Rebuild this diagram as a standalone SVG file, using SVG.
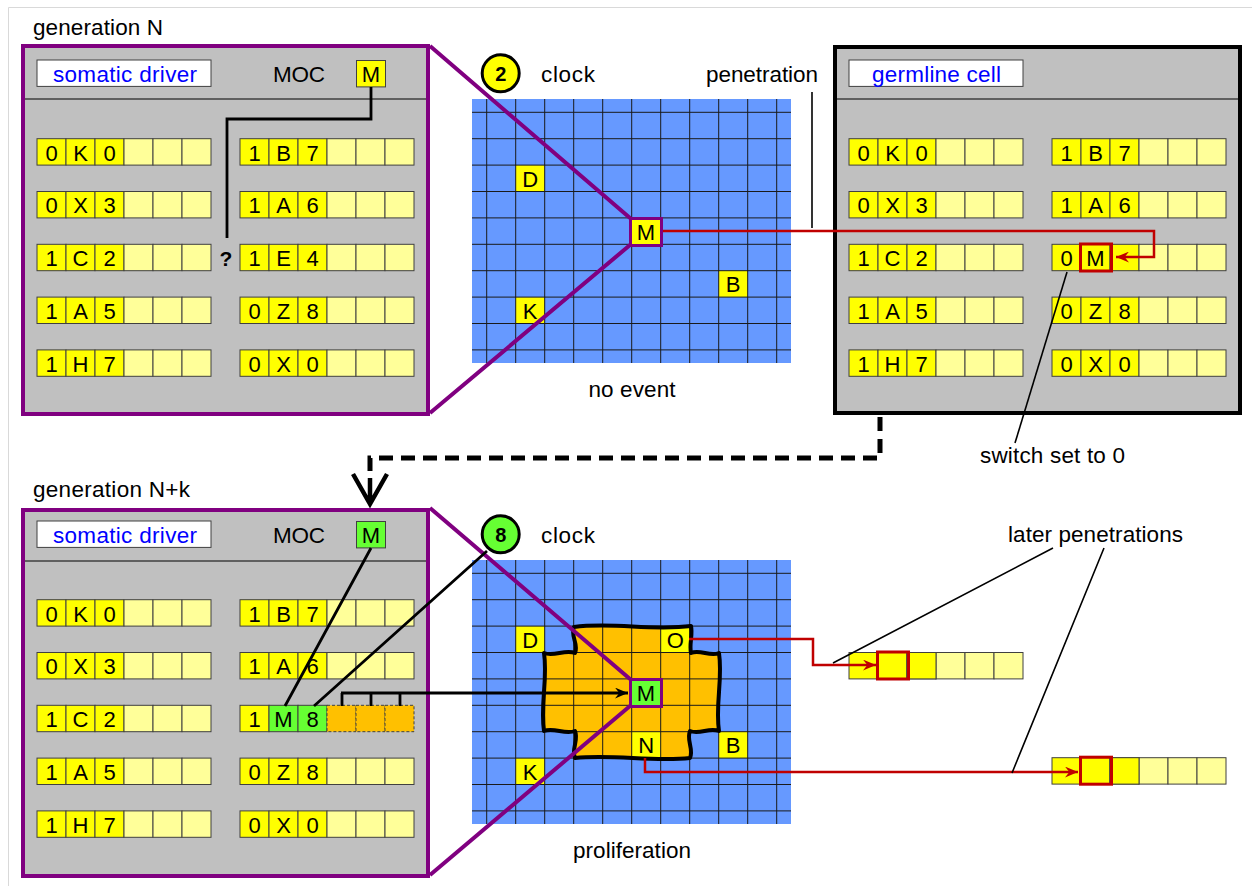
<svg xmlns="http://www.w3.org/2000/svg" xmlns:xlink="http://www.w3.org/1999/xlink" width="1252" height="886" viewBox="0 0 1252 886">
<style>
text{font-family:"Liberation Sans",Arial,sans-serif;fill:#000}
.lbl{font-size:22.5px}
.blue{fill:#0000ff}
.ct{font-size:22px;text-anchor:middle}
.mid{text-anchor:middle}
.y{fill:#ffff00;stroke:#404040;stroke-width:1}
.ly{fill:#ffff99;stroke:#404040;stroke-width:1}
.gy{fill:#ffff00}
.panel{fill:#c0c0c0}
.sep{stroke:#404040;stroke-width:1.5}
.purp{stroke:#800080;stroke-width:4;fill:none}
.red{stroke:#c00000;stroke-width:2.5;fill:none}
.redbox{stroke:#c00000;stroke-width:3;fill:none}
.blk{stroke:#000;stroke-width:2.8;fill:none}
.lead{stroke:#000;stroke-width:1.6;fill:none}
.gl{stroke:#1a1a1a;stroke-width:1;fill:none}
</style>
<defs>
<g id="row">
<rect class="y" x="0" y="0" width="29" height="26.4"/>
<rect class="y" x="29" y="0" width="29" height="26.4"/>
<rect class="y" x="58" y="0" width="29" height="26.4"/>
<rect class="ly" x="87" y="0" width="29" height="26.4"/>
<rect class="ly" x="116" y="0" width="29" height="26.4"/>
<rect class="ly" x="145" y="0" width="29" height="26.4"/>
</g>
<path id="gridlines" class="gl" d="M486.7,99V363M515.7,99V363M544.7,99V363M573.7,99V363M602.7,99V363M631.7,99V363M660.7,99V363M689.7,99V363M718.7,99V363M747.7,99V363M776.7,99V363M472,112.3H791M472,138.7H791M472,165.1H791M472,191.5H791M472,217.9H791M472,244.3H791M472,270.7H791M472,297.1H791M472,323.5H791M472,349.9H791"/>
<marker id="arR" viewBox="0 0 12 10" refX="12" refY="5" markerWidth="13" markerHeight="11" markerUnits="userSpaceOnUse" orient="auto"><path d="M0,0 L12,5 L0,10 L4,5 z" fill="#c00000"/></marker>
<marker id="arK" viewBox="0 0 12 10" refX="12" refY="5" markerWidth="13" markerHeight="11" markerUnits="userSpaceOnUse" orient="auto"><path d="M0,0 L12,5 L0,10 L4,5 z" fill="#000"/></marker>
</defs>
<rect width="1252" height="886" fill="#fff"/>
<path d="M8.5,886V7.5H1252" stroke="#d9d9d9" stroke-width="1" fill="none"/>

<!-- Generation N panel -->
<g id="panel-gen-n">
<text class="lbl" x="33" y="35" textLength="130">generation N</text>
<rect class="panel" x="23" y="46" width="405" height="368" stroke="#800080" stroke-width="4"/>
<line class="sep" x1="25" y1="99" x2="426" y2="99"/>
<rect x="37" y="60" width="174" height="26.4" fill="#fff" stroke="#404040" stroke-width="1"/>
<text class="lbl blue mid" x="125" y="82" textLength="144">somatic driver</text>
<text class="lbl mid" x="299" y="82" textLength="52">MOC</text>
<rect class="y" x="356.5" y="60.5" width="29" height="26.4"/>
<text class="ct" x="371" y="81.5">M</text>
<use href="#row" x="37" y="138.7"/><use href="#row" x="37" y="191.5"/><use href="#row" x="37" y="244.3"/><use href="#row" x="37" y="297.1"/><use href="#row" x="37" y="349.9"/>
<use href="#row" x="240" y="138.7"/><use href="#row" x="240" y="191.5"/><use href="#row" x="240" y="244.3"/><use href="#row" x="240" y="297.1"/><use href="#row" x="240" y="349.9"/>
<text class="ct" x="51.5" y="160.5">0</text><text class="ct" x="80.5" y="160.5">K</text><text class="ct" x="109.5" y="160.5">0</text>
<text class="ct" x="51.5" y="213.3">0</text><text class="ct" x="80.5" y="213.3">X</text><text class="ct" x="109.5" y="213.3">3</text>
<text class="ct" x="51.5" y="266.1">1</text><text class="ct" x="80.5" y="266.1">C</text><text class="ct" x="109.5" y="266.1">2</text>
<text class="ct" x="51.5" y="318.9">1</text><text class="ct" x="80.5" y="318.9">A</text><text class="ct" x="109.5" y="318.9">5</text>
<text class="ct" x="51.5" y="371.7">1</text><text class="ct" x="80.5" y="371.7">H</text><text class="ct" x="109.5" y="371.7">7</text>
<text class="ct" x="254.5" y="160.5">1</text><text class="ct" x="283.5" y="160.5">B</text><text class="ct" x="312.5" y="160.5">7</text>
<text class="ct" x="254.5" y="213.3">1</text><text class="ct" x="283.5" y="213.3">A</text><text class="ct" x="312.5" y="213.3">6</text>
<text class="ct" x="254.5" y="266.1">1</text><text class="ct" x="283.5" y="266.1">E</text><text class="ct" x="312.5" y="266.1">4</text>
<text class="ct" x="254.5" y="318.9">0</text><text class="ct" x="283.5" y="318.9">Z</text><text class="ct" x="312.5" y="318.9">8</text>
<text class="ct" x="254.5" y="371.7">0</text><text class="ct" x="283.5" y="371.7">X</text><text class="ct" x="312.5" y="371.7">0</text>
<text x="226" y="265.5" font-size="21" font-weight="bold" text-anchor="middle">?</text>
</g>

<!-- Top grid -->
<g id="grid-top">
<rect x="472" y="99" width="319" height="264" fill="#6699ff"/>
<rect class="gy" x="515.7" y="165.1" width="29" height="26.4"/>
<rect class="gy" x="515.7" y="297.1" width="29" height="26.4"/>
<rect class="gy" x="718.7" y="270.7" width="29" height="26.4"/>
<use href="#gridlines"/>
<text class="ct" x="530.2" y="186.7">D</text>
<text class="ct" x="530.2" y="318.7">K</text>
<text class="ct" x="733.2" y="292.3">B</text>
<circle cx="500.7" cy="73.3" r="18.5" fill="#ffff00" stroke="#000" stroke-width="3"/>
<text x="500.7" y="80.5" font-size="20" font-weight="bold" text-anchor="middle">2</text>
<text class="lbl" x="541" y="82" textLength="54">clock</text>
<text class="lbl" x="706" y="82" textLength="112">penetration</text>
<text class="lbl mid" x="632" y="397" textLength="87">no event</text>
</g>

<!-- Germline panel -->
<g id="germline">
<rect class="panel" x="835" y="47" width="405" height="366" stroke="#000" stroke-width="4"/>
<line class="sep" x1="837" y1="99" x2="1238" y2="99"/>
<rect x="849" y="60" width="174" height="26.4" fill="#fff" stroke="#404040" stroke-width="1"/>
<text class="lbl blue mid" x="936.5" y="82" textLength="129">germline cell</text>
<use href="#row" x="849" y="138.7"/><use href="#row" x="849" y="191.5"/><use href="#row" x="849" y="244.3"/><use href="#row" x="849" y="297.1"/><use href="#row" x="849" y="349.9"/>
<use href="#row" x="1052" y="138.7"/><use href="#row" x="1052" y="191.5"/><use href="#row" x="1052" y="244.3"/><use href="#row" x="1052" y="297.1"/><use href="#row" x="1052" y="349.9"/>
<text class="ct" x="863.5" y="160.5">0</text><text class="ct" x="892.5" y="160.5">K</text><text class="ct" x="921.5" y="160.5">0</text>
<text class="ct" x="863.5" y="213.3">0</text><text class="ct" x="892.5" y="213.3">X</text><text class="ct" x="921.5" y="213.3">3</text>
<text class="ct" x="863.5" y="266.1">1</text><text class="ct" x="892.5" y="266.1">C</text><text class="ct" x="921.5" y="266.1">2</text>
<text class="ct" x="863.5" y="318.9">1</text><text class="ct" x="892.5" y="318.9">A</text><text class="ct" x="921.5" y="318.9">5</text>
<text class="ct" x="863.5" y="371.7">1</text><text class="ct" x="892.5" y="371.7">H</text><text class="ct" x="921.5" y="371.7">7</text>
<text class="ct" x="1066.5" y="160.5">1</text><text class="ct" x="1095.5" y="160.5">B</text><text class="ct" x="1124.5" y="160.5">7</text>
<text class="ct" x="1066.5" y="213.3">1</text><text class="ct" x="1095.5" y="213.3">A</text><text class="ct" x="1124.5" y="213.3">6</text>
<text class="ct" x="1066.5" y="266.1">0</text><text class="ct" x="1095.5" y="266.1">M</text>
<text class="ct" x="1066.5" y="318.9">0</text><text class="ct" x="1095.5" y="318.9">Z</text><text class="ct" x="1124.5" y="318.9">8</text>
<text class="ct" x="1066.5" y="371.7">0</text><text class="ct" x="1095.5" y="371.7">X</text><text class="ct" x="1124.5" y="371.7">0</text>
<rect class="redbox" x="1080.5" y="244" width="31" height="27"/>
<text class="lbl mid" x="1052.5" y="463" textLength="145">switch set to 0</text>
</g>

<!-- Generation N+k panel -->
<g id="panel-gen-nk">
<text class="lbl" x="33" y="497" textLength="157">generation N+k</text>
<rect class="panel" x="23" y="510" width="405" height="366" stroke="#800080" stroke-width="4"/>
<line class="sep" x1="25" y1="561" x2="426" y2="561"/>
<rect x="37" y="521" width="174" height="26.4" fill="#fff" stroke="#404040" stroke-width="1"/>
<text class="lbl blue mid" x="125" y="543" textLength="144">somatic driver</text>
<text class="lbl mid" x="299" y="543" textLength="52">MOC</text>
<rect x="356.5" y="521.5" width="29" height="26.4" fill="#66ff33" stroke="#404040" stroke-width="1"/>
<text class="ct" x="371" y="542.5">M</text>
<use href="#row" x="37" y="599.7"/><use href="#row" x="37" y="652.5"/><use href="#row" x="37" y="705.3"/><use href="#row" x="37" y="758.1"/><use href="#row" x="37" y="810.9"/>
<use href="#row" x="240" y="599.7"/><use href="#row" x="240" y="652.5"/><use href="#row" x="240" y="758.1"/><use href="#row" x="240" y="810.9"/>
<rect class="y" x="240" y="705.3" width="29" height="26.4"/>
<rect x="269" y="705.3" width="29" height="26.4" fill="#66ff33" stroke="#404040" stroke-width="1"/>
<rect x="298" y="705.3" width="29" height="26.4" fill="#66ff33" stroke="#404040" stroke-width="1"/>
<rect x="327" y="705.3" width="29" height="26.4" fill="#ffc000" stroke="#404040" stroke-width="1" stroke-dasharray="3,2"/>
<rect x="356" y="705.3" width="29" height="26.4" fill="#ffc000" stroke="#404040" stroke-width="1" stroke-dasharray="3,2"/>
<rect x="385" y="705.3" width="29" height="26.4" fill="#ffc000" stroke="#404040" stroke-width="1" stroke-dasharray="3,2"/>
<text class="ct" x="51.5" y="621.5">0</text><text class="ct" x="80.5" y="621.5">K</text><text class="ct" x="109.5" y="621.5">0</text>
<text class="ct" x="51.5" y="674.3">0</text><text class="ct" x="80.5" y="674.3">X</text><text class="ct" x="109.5" y="674.3">3</text>
<text class="ct" x="51.5" y="727.1">1</text><text class="ct" x="80.5" y="727.1">C</text><text class="ct" x="109.5" y="727.1">2</text>
<text class="ct" x="51.5" y="779.9">1</text><text class="ct" x="80.5" y="779.9">A</text><text class="ct" x="109.5" y="779.9">5</text>
<text class="ct" x="51.5" y="832.7">1</text><text class="ct" x="80.5" y="832.7">H</text><text class="ct" x="109.5" y="832.7">7</text>
<text class="ct" x="254.5" y="621.5">1</text><text class="ct" x="283.5" y="621.5">B</text><text class="ct" x="312.5" y="621.5">7</text>
<text class="ct" x="254.5" y="674.3">1</text><text class="ct" x="283.5" y="674.3">A</text><text class="ct" x="312.5" y="674.3">6</text>
<text class="ct" x="254.5" y="727.1">1</text><text class="ct" x="283.5" y="727.1">M</text><text class="ct" x="312.5" y="727.1">8</text>
<text class="ct" x="254.5" y="779.9">0</text><text class="ct" x="283.5" y="779.9">Z</text><text class="ct" x="312.5" y="779.9">8</text>
<text class="ct" x="254.5" y="832.7">0</text><text class="ct" x="283.5" y="832.7">X</text><text class="ct" x="312.5" y="832.7">0</text>
</g>

<!-- Bottom grid -->
<g id="grid-bottom">
<rect x="472" y="560" width="319" height="264" fill="#6699ff"/>
<path id="blob-fill" d="M574,627 C613,622 652,631 691,626 C693,635 689,644 691,653 C700,649 710,657 719,653 C723,679 715,705 719,731 C709,727 700,735 690,731 C686,740 694,749 690,758 C652,762 613,754 575,758 C571,749 579,740 575,731 C565,735 554,727 544,731 C540,705 548,679 544,653 C554,657 565,649 575,653 C579,644 570,636 574,627 Z" fill="#ffc000"/>
<rect class="gy" x="515.7" y="626.1" width="29" height="26.4"/>
<rect class="gy" x="515.7" y="758.1" width="29" height="26.4"/>
<rect class="gy" x="718.7" y="731.7" width="29" height="26.4"/>
<rect class="gy" x="660.7" y="626.1" width="29" height="26.4"/>
<rect class="gy" x="631.7" y="731.7" width="29" height="26.4"/>
<use href="#gridlines" y="461"/>
<path d="M574,627 C613,622 652,631 691,626 C693,635 689,644 691,653 C700,649 710,657 719,653 C723,679 715,705 719,731 C709,727 700,735 690,731 C686,740 694,749 690,758 C652,762 613,754 575,758 C571,749 579,740 575,731 C565,735 554,727 544,731 C540,705 548,679 544,653 C554,657 565,649 575,653 C579,644 570,636 574,627 Z" fill="none" stroke="#000" stroke-width="4" stroke-linejoin="round"/>
<text class="ct" x="530.2" y="647.7">D</text>
<text class="ct" x="530.2" y="779.7">K</text>
<text class="ct" x="733.2" y="753.3">B</text>
<text class="ct" x="675.2" y="647.7">O</text>
<text class="ct" x="646.2" y="753.3">N</text>
<text class="lbl" x="541" y="543" textLength="54">clock</text>
<text class="lbl mid" x="632" y="858" textLength="118">proliferation</text>
</g>

<!-- Later penetration rows -->
<g id="later-rows">
<use href="#row" x="849" y="652.5"/>
<rect class="y" x="907" y="652.5" width="29" height="26.4"/>
<rect class="redbox" x="877.5" y="652" width="31" height="27"/>
<use href="#row" x="1052" y="757.7"/>
<rect class="y" x="1110" y="757.7" width="29" height="26.4"/>
<rect class="redbox" x="1080.5" y="757.2" width="31" height="27"/>
<text class="lbl mid" x="1095.5" y="542" textLength="175">later penetrations</text>
</g>

<!-- Connectors -->
<g id="connectors">
<path class="blk" d="M371,87V119H227V238" stroke-width="3"/>
<path class="purp" d="M430,46L630,218M430,413L630,245"/>
<path class="purp" d="M430,508L630,679M430,875L630,706"/>
<path class="lead" d="M812,92V228"/>
<path class="red" d="M663,231H1154V257H1116" marker-end="url(#arR)"/>
<path class="lead" d="M1067,272L1015,443"/>
<path d="M880,417V458H370V478" stroke="#000" stroke-width="5" fill="none" stroke-dasharray="14,8"/>
<path d="M370,478V503M353,474L370,504L387,474" stroke="#000" stroke-width="4.5" fill="none"/>
<path class="blk" d="M371,548L285,706M314,706L487,551"/>
<path class="blk" d="M342,706V693M371,706V693M400,706V693M341,693H628" marker-end="url(#arK)"/>
<path class="red" d="M689,639H813V665H876" marker-end="url(#arR)"/>
<path class="red" d="M645,758V772H1078" marker-end="url(#arR)"/>
<path class="lead" d="M1053,548L833,663M1104,548L1012,773"/>
</g>

<g id="m-top">
<rect x="630.5" y="218.5" width="31" height="27" fill="#ffff00" stroke="#800080" stroke-width="3"/>
<text class="ct" x="646" y="239.8">M</text>
</g>
<g id="m-bottom">
<rect x="630.5" y="679.5" width="31" height="27" fill="#66ff33" stroke="#800080" stroke-width="3"/>
<text class="ct" x="646" y="700.8">M</text>
</g>
<g id="clock-bottom">
<circle cx="500.7" cy="534.3" r="18.5" fill="#66ff33" stroke="#000" stroke-width="3"/>
<text x="500.7" y="541.5" font-size="20" font-weight="bold" text-anchor="middle">8</text>
</g>
</svg>
